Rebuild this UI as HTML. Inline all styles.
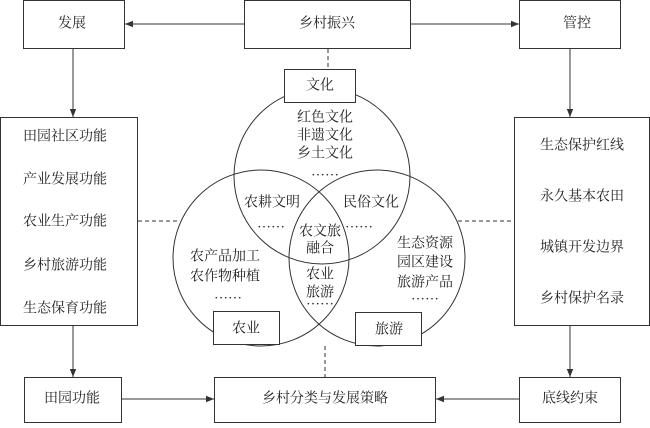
<!DOCTYPE html>
<html><head><meta charset="utf-8"><style>
body{margin:0;background:#fff}
svg text{font-family:"Liberation Serif","Noto Serif CJK SC",serif;font-size:14px;fill:#222;text-anchor:middle;dominant-baseline:central}
</style></head><body>
<svg width="650" height="423" viewBox="0 0 650 423" xmlns="http://www.w3.org/2000/svg">
<defs><marker id="a" viewBox="0 0 10 10" refX="10" refY="5" markerWidth="8" markerHeight="8" orient="auto"><path d="M0,1 L10,5 L0,9 z" fill="#333"/></marker></defs>
<g fill="none" stroke="#333" stroke-width="1">
<circle cx="322" cy="176" r="88"/>
<circle cx="261" cy="258" r="88"/>
<circle cx="377" cy="258" r="88"/>
</g>
<g fill="#fff" stroke="#333" stroke-width="1">
<rect x="23.5" y="0.5" width="101" height="48"/>
<rect x="244.5" y="0.5" width="166" height="48"/>
<rect x="519.5" y="0.5" width="101" height="48"/>
<rect x="0.5" y="117.5" width="137" height="208"/>
<rect x="514.5" y="117.5" width="135" height="208"/>
<rect x="24.5" y="377.5" width="97" height="45"/>
<rect x="214.5" y="377.5" width="221" height="45"/>
<rect x="519.5" y="377.5" width="101" height="45"/>
<rect x="284.5" y="69.5" width="71" height="33"/>
<rect x="213.5" y="311.5" width="66" height="33"/>
<rect x="355.5" y="312.5" width="66" height="33"/>
</g>
<g stroke="#333" stroke-width="1" fill="none">
<line x1="244" y1="24" x2="125" y2="24" marker-end="url(#a)"/>
<line x1="410" y1="24" x2="519" y2="24" marker-end="url(#a)"/>
<line x1="73" y1="49" x2="73" y2="117" marker-end="url(#a)"/>
<line x1="570" y1="49" x2="570" y2="117" marker-end="url(#a)"/>
<line x1="73" y1="326" x2="73" y2="377" marker-end="url(#a)"/>
<line x1="570" y1="326" x2="570" y2="377" marker-end="url(#a)"/>
<line x1="122" y1="399" x2="214" y2="399" marker-end="url(#a)"/>
<line x1="519" y1="399" x2="436" y2="399" marker-end="url(#a)"/>
<g stroke-dasharray="4,3">
<line x1="328" y1="49" x2="328" y2="69"/>
<line x1="325" y1="346" x2="325" y2="377"/>
<line x1="138" y1="221" x2="178" y2="221"/>
<line x1="458" y1="221" x2="514" y2="221"/>
</g>
</g>
<text x="72" y="24">发展</text>
<text x="327" y="24">乡村振兴</text>
<text x="577" y="24">管控</text>
<text x="320" y="86">文化</text>
<text x="246" y="329">农业</text>
<text x="389" y="330">旅游</text>
<text x="72" y="399">田园功能</text>
<text x="325" y="399">乡村分类与发展策略</text>
<text x="570" y="399">底线约束</text>
<text x="65" y="137">田园社区功能</text>
<text x="65" y="180">产业发展功能</text>
<text x="65" y="222">农业生产功能</text>
<text x="65" y="266">乡村旅游功能</text>
<text x="65" y="309">生态保育功能</text>
<text x="582" y="146">生态保护红线</text>
<text x="582" y="197">永久基本农田</text>
<text x="582" y="248">城镇开发边界</text>
<text x="582" y="299">乡村保护名录</text>
<text x="325" y="118">红色文化</text>
<text x="325" y="136">非遗文化</text>
<text x="325" y="154">乡土文化</text>
<text x="325" y="172">……</text>
<text x="272" y="203">农耕文明</text>
<text x="371" y="203">民俗文化</text>
<text x="271" y="224">……</text>
<text x="359" y="224">……</text>
<text x="320" y="232">农文旅</text>
<text x="320" y="249">融合</text>
<text x="225" y="257">农产品加工</text>
<text x="225" y="277">农作物种植</text>
<text x="228" y="295">……</text>
<text x="320" y="275">农业</text>
<text x="320" y="293">旅游</text>
<text x="320" y="301">……</text>
<text x="425" y="244">生态资源</text>
<text x="425" y="263">园区建设</text>
<text x="425" y="283">旅游产品</text>
<text x="425" y="296">……</text>
</svg>
</body></html>
